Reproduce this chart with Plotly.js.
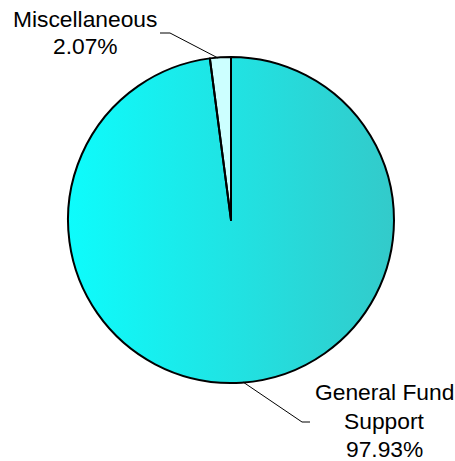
<!DOCTYPE html>
<html>
<head>
<meta charset="utf-8">
<script src="https://cdn.plot.ly/plotly-3.0.1.min.js"></script>
<style>html,body{margin:0;padding:0;background:#fff;}#chart{width:455px;height:461px;}</style>
</head>
<body>
<div id="chart"></div>
<script>
const labels = ["Miscellaneous", "General Fund Support"];
const values = [2.07, 97.93];
const labelLines = [["Miscellaneous", "2.07%"], ["General Fund", "Support", "97.93%"]];

const W = 455, H = 461;
// pie bounding box in pixels
const pieLeft = 68, pieTop = 57, pieSize = 326;
const dx = [pieLeft / W, (pieLeft + pieSize) / W];
const dy = [1 - (pieTop + pieSize) / H, 1 - pieTop / H];

const px = x => x / W;
const py = y => 1 - y / H;

const svg = '<svg xmlns="http://www.w3.org/2000/svg" viewBox="0 0 100 100" preserveAspectRatio="none">' +
  '<defs><linearGradient id="g" x1="0" y1="0" x2="1" y2="0">' +
  '<stop offset="0" stop-color="#0DFCFC"/><stop offset="1" stop-color="#33CACA"/>' +
  '</linearGradient></defs><circle cx="50" cy="50" r="50" fill="url(#g)"/></svg>';
const src = 'data:image/svg+xml;base64,' + btoa(svg);

const total = values.reduce((a, b) => a + b, 0);

const trace = {
  type: 'pie',
  labels: labels,
  values: values,
  sort: false,
  direction: 'clockwise',
  rotation: -360 * values[0] / total,
  textinfo: 'none',
  hoverinfo: 'none',
  showlegend: false,
  domain: {x: dx, y: dy},
  marker: {colors: ['#CCFFFF', 'rgba(0,0,0,0)'], line: {color: '#000000', width: 2}}
};

const font = {family: 'Liberation Sans, Arial, sans-serif', size: 22.8, color: '#000'};

// label line centres (pixels)
const labelPos = [{x: 85, ys: [19, 46]}, {x: 384, ys: [392, 421, 449]}];
const annotations = [];
labelLines.forEach((lines, i) => {
  lines.forEach((t, j) => {
    annotations.push({text: t, xref: 'paper', yref: 'paper', x: px(labelPos[i].x), y: py(labelPos[i].ys[j]),
      xanchor: 'center', yanchor: 'middle', showarrow: false, font: font, borderpad: 0});
  });
});

const layout = {
  width: W, height: H,
  margin: {l: 0, r: 0, t: 0, b: 0},
  paper_bgcolor: '#fff',
  showlegend: false,
  images: [{
    source: src, xref: 'paper', yref: 'paper',
    x: dx[0], y: dy[1], sizex: dx[1] - dx[0], sizey: dy[1] - dy[0],
    xanchor: 'left', yanchor: 'top', sizing: 'stretch', layer: 'below'
  }],
  shapes: [
    {type: 'path', xref: 'paper', yref: 'paper',
     path: `M${px(160)},${py(33)} L${px(170)},${py(33)} L${px(218)},${py(58)}`,
     line: {color: '#000', width: 1}},
    {type: 'path', xref: 'paper', yref: 'paper',
     path: `M${px(243)},${py(382)} L${px(302)},${py(422)} L${px(310)},${py(422)}`,
     line: {color: '#000', width: 1}}
  ],
  annotations: annotations
};

Plotly.newPlot('chart', [trace], layout, {displayModeBar: false, staticPlot: true});
</script>
</body>
</html>
